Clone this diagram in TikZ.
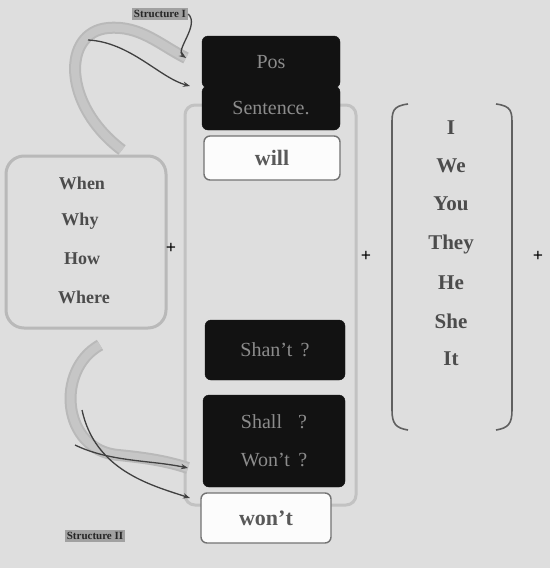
\documentclass[tikz,border=0pt]{standalone}
\usepackage{fontspec}
\setmainfont{Liberation Serif}
\usetikzlibrary{arrows.meta}
\definecolor{bg}{RGB}{222,222,222}
\definecolor{blk}{RGB}{18,18,18}
\definecolor{dtxt}{RGB}{140,140,140}
\tikzset{
  darkbox/.style={fill=blk, draw=blk, rounded corners=6pt, text=dtxt, font=\fontsize{20}{22}\selectfont},
  lightbox/.style={fill=white!92!bg, draw=gray!90!black, line width=1.4pt, rounded corners=6pt, font=\bfseries\fontsize{22}{24}\selectfont, text=gray!70!black},
  word/.style={font=\bfseries\fontsize{18}{20}\selectfont, text=gray!60!black},
  rword/.style={font=\bfseries\fontsize{21}{23}\selectfont, text=gray!60!black},
  paren/.style={draw=gray!75!black, line width=1.6pt},
  soft/.style={draw=gray!55, line width=3pt},
  ribbonout/.style={draw=gray!55, line width=12pt},
  ribbonin/.style={draw=gray!25!bg, line width=8pt},
  thinarrow/.style={draw=gray!50!black, line width=1.3pt, -{Stealth[length=7pt]}},
  plus/.style={font=\bfseries\fontsize{18}{18}\selectfont, text=black},
  lbl/.style={font=\bfseries\fontsize{11}{12}\selectfont, text=gray!30!black, fill=gray!65!bg, inner sep=2pt}
}
\begin{document}
\begin{tikzpicture}[x=1pt,y=-1pt]
\fill[bg] (0,0) rectangle (550,568);
\useasboundingbox (0,0) rectangle (550,568);
% central frame
\draw[soft, draw=gray!30!bg, rounded corners=10pt] (185,105) rectangle (356,505);
% left group
\draw[soft, rounded corners=18pt] (6,156) rectangle (166,328);
\node[word] (when) at (82,183) {When};
\node[word] (why) at (80,221) {Why};
\node[word] (how) at (82,259) {How};
\node[word] (where) at (84,297) {Where};
% top boxes
\node[darkbox, minimum width=138pt, minimum height=52pt] (pos) at (271,62) {Pos};
\node[darkbox, minimum width=138pt, minimum height=44pt] (sent) at (271,108) {Sentence.};
\node[lightbox, minimum width=136pt, minimum height=44pt] (will) at (272,158) {will};
% bottom boxes
\node[darkbox, minimum width=140pt, minimum height=60pt] (shant) at (275,350) {Shan't \,?};
\node[darkbox, minimum width=142pt, minimum height=92pt, align=center] (shall) at (274,441) {Shall \;\;?\\[16pt]Won't \,?};
\node[lightbox, minimum width=130pt, minimum height=50pt] (wont) at (266,518) {won't};
% right group
\draw[paren] (408,104) .. controls (392,106) and (392,112) .. (392,125) -- (392,410) .. controls (392,424) and (396,428) .. (408,430);
\draw[paren] (496,104) .. controls (512,106) and (512,112) .. (512,125) -- (512,410) .. controls (512,424) and (508,428) .. (496,430);
\node[rword] (pI) at (451,128) {I};
\node[rword] (pWe) at (451,166) {We};
\node[rword] (pYou) at (451,204) {You};
\node[rword] (pThey) at (451,244) {They};
\node[rword] (pHe) at (451,283) {He};
\node[rword] (pShe) at (451,321) {She};
\node[rword] (pIt) at (451,359) {It};
% plus signs
\node[plus] (p1) at (171,248) {+};
\node[plus] (p2) at (366,256) {+};
\node[plus] (p3) at (538,256) {+};
% labels
\node[lbl] (s1) at (160,14) {Structure I};
\node[lbl] (s2) at (95,536) {Structure II};
% top curved arrows
\coordinate (ta0) at (122,150);
\coordinate (ta1) at (186,58);
\coordinate (tb0) at (88,40);
\coordinate (tb1) at (190,86);
\draw[ribbonout] (ta0) .. controls (62,105) and (62,32) .. (108,28) .. controls (140,25) and (160,45) .. (ta1);
\draw[ribbonin] (ta0) .. controls (62,105) and (62,32) .. (108,28) .. controls (140,25) and (160,45) .. (ta1);
\draw[thinarrow] (tb0) .. controls (130,42) and (160,78) .. (tb1);
\draw[thinarrow] (s1.east) .. controls (200,25) and (175,50) .. (ta1);
% bottom curved arrows
\coordinate (ba0) at (100,345);
\coordinate (ba1) at (188,468);
\coordinate (bb0) at (82,410);
\coordinate (bb1) at (190,498);
\draw[ribbonout] (ba0) .. controls (55,370) and (62,450) .. (118,455) .. controls (150,458) and (170,462) .. (ba1);
\draw[ribbonin] (ba0) .. controls (55,370) and (62,450) .. (118,455) .. controls (150,458) and (170,462) .. (ba1);
\draw[thinarrow] (bb0) .. controls (95,470) and (150,485) .. (bb1);
\draw[thinarrow] (75,445) .. controls (110,462) and (150,460) .. (ba1);
\end{tikzpicture}
\end{document}
